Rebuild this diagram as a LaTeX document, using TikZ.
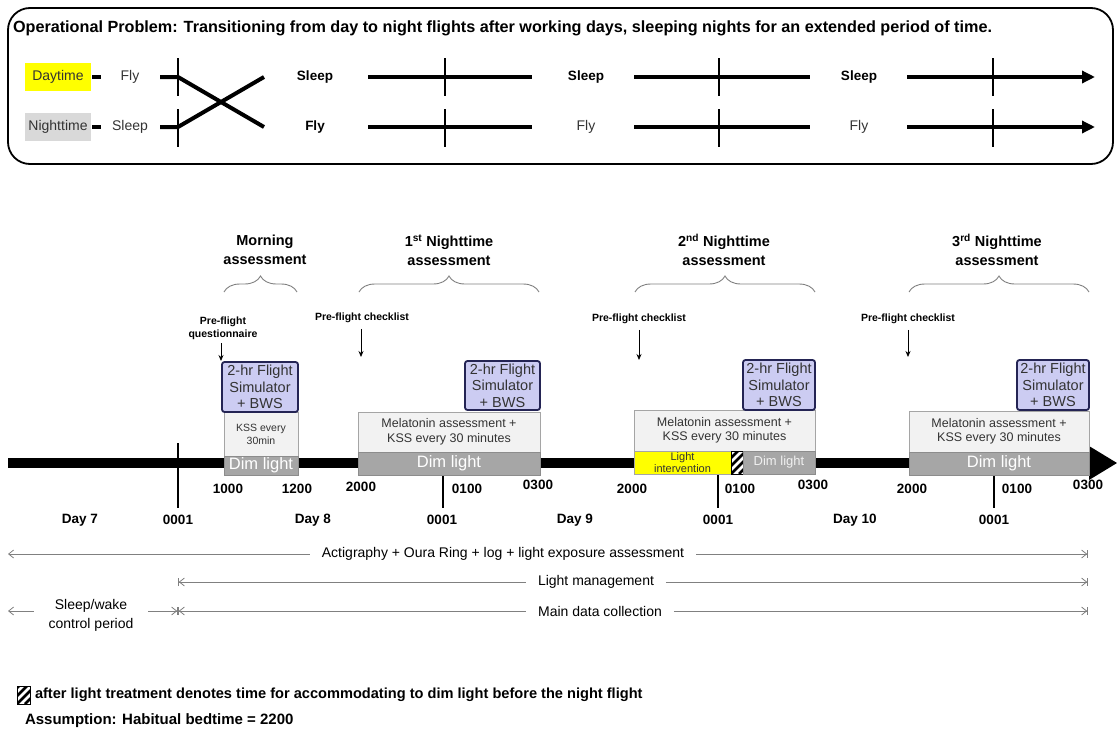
\documentclass[tikz,border=0pt]{standalone}
\usepackage{fontspec}
\setmainfont{Liberation Sans}
\usetikzlibrary{arrows.meta,decorations.pathreplacing,calc}
\definecolor{lav}{RGB}{204,204,242}
\definecolor{navy}{RGB}{36,36,84}
\definecolor{boxlt}{RGB}{242,242,242}
\definecolor{boxbd}{RGB}{165,165,165}
\definecolor{dimg}{RGB}{166,166,166}
\definecolor{dimbd}{RGB}{140,140,140}
\definecolor{txt}{RGB}{51,51,51}
\definecolor{ngray}{RGB}{217,217,217}
\definecolor{yel}{RGB}{255,255,0}
\definecolor{arrg}{RGB}{128,128,128}
\newcommand\fs[2]{\fontsize{#1}{#2}\selectfont}
\newcommand\hatchbox[4]{%
  \begin{scope}
    \clip (#1,#2) rectangle (#3,#4);
    \fill[white] (#1,#2) rectangle (#3,#4);
    \foreach \k in {-32,-24,...,24}
      \draw[line width=2.8pt] (#1+\k,#4) -- ++(30,-30);
  \end{scope}
  \draw[line width=0.6pt] (#1,#2) rectangle (#3,#4);}
\begin{document}
\begin{tikzpicture}[x=1pt,y=-1pt,
  every node/.style={inner sep=0pt,outer sep=0pt},
  fsim/.style={draw=navy,line width=1.8pt,fill=lav,rounded corners=2.5pt,anchor=north west,align=center,text=txt,font=\fs{14.5}{16.5}},
  lbox/.style={draw=boxbd,line width=0.8pt,fill=boxlt,anchor=north west,align=center,text=txt},
  dimbox/.style={draw=dimbd,line width=0.8pt,fill=dimg,anchor=north west,text=white,font=\fs{16.5}{18}},
  heavy/.style={line width=4pt},
  tk/.style={line width=1.2pt},
  lab/.style={font=\fs{14}{16},text=txt},
  blab/.style={font=\bfseries\fs{13.5}{15}},
  tlab/.style={font=\bfseries\fs{13.5}{15}},
  hdr/.style={font=\bfseries\fs{14.5}{19},align=center},
  pre/.style={font=\bfseries\fs{10.5}{13},align=center},
  prearr/.style={line width=0.8pt,-{Stealth[length=6pt,width=5pt]}},
  brc/.style={draw=arrg,line width=0.9pt,decorate,decoration={brace,amplitude=16pt}},
  span/.style={draw=arrg,line width=0.8pt},
  spanlab/.style={font=\fs{14}{19},inner xsep=12pt,align=center},
  spanL/.style={span,{Straight Barb[length=5pt,width=8pt]}-},
  spanR/.style={span,-{Straight Barb[length=5pt,width=8pt]Bar[width=8pt]}},
  spanBL/.style={span,{Bar[width=8pt]Straight Barb[length=5pt,width=8pt]}-},
]
\path[use as bounding box] (0,0) rectangle (1117,731);
% ---------- top box ----------
\draw[line width=1.8pt,rounded corners=22pt] (8,8) rectangle (1113,164);
\node[anchor=west,font=\bfseries\fs{16.2}{18}] (title) at (13,28) {Operational Problem: Transitioning from day to night flights after working days, sleeping nights for an extended period of time.};
\node[fill=yel,minimum width=66pt,minimum height=28pt,anchor=north west,lab] (day) at (25,63) {Daytime};
\node[fill=ngray,minimum width=66pt,minimum height=28pt,anchor=north west,lab] (night) at (25,113) {Nighttime};
\draw[heavy] (92,77) -- (101,77);
\draw[heavy] (92,127) -- (101,127);
\node[lab] (fly0) at (130,77) {Fly};
\node[lab] (sleep0) at (130,127) {Sleep};
\draw[heavy] (160,77) -- (178,77) -- (264,127);
\draw[heavy] (160,127) -- (178,127) -- (264,77);
\foreach \x in {178,445,719,993} {
  \draw[tk] (\x,58) -- (\x,96);
  \draw[tk] (\x,109) -- (\x,147);
}
\node[blab] (s1) at (315,77) {Sleep};
\node[blab] (f1) at (315,127) {Fly};
\draw[heavy] (368,77) -- (532,77);
\draw[heavy] (368,127) -- (532,127);
\node[blab] (s2) at (586,77) {Sleep};
\node[lab] (f2) at (586,127) {Fly};
\draw[heavy] (634,77) -- (810,77);
\draw[heavy] (634,127) -- (810,127);
\node[blab] (s3) at (859,77) {Sleep};
\node[lab] (f3) at (859,127) {Fly};
\draw[heavy,-{Triangle[length=13pt,width=12pt]}] (907,77) -- (1095,77);
\draw[heavy,-{Triangle[length=13pt,width=12pt]}] (907,127) -- (1095,127);
% ---------- timeline ----------
\draw[line width=10pt] (8,463) -- (1092,463);
\fill (1089,446) -- (1117,463) -- (1089,480) -- cycle;
\draw[line width=1.5pt] (178,443) -- (178,508);
\foreach \x in {443,718,994} \draw[line width=1.5pt] (\x,475) -- (\x,508);
% morning
\node[lbox,minimum width=74pt,minimum height=44pt,font=\fs{10.5}{13}] (kss) at (224,412) {KSS every\\30min};
\node[dimbox,minimum width=74pt,minimum height=19pt] (dim1) at (224,456) {Dim light};
\node[fsim,minimum width=76pt,minimum height=50pt] (sim1) at (222,362) {2-hr Flight\\Simulator\\+ BWS};
% 1st night
\node[lbox,minimum width=182pt,minimum height=40pt,font=\fs{12.5}{14.5}] (mel1) at (358,412) {Melatonin assessment +\\KSS every 30 minutes};
\node[dimbox,minimum width=182pt,minimum height=23pt] (dim2) at (358,452) {Dim light};
\node[fsim,minimum width=75pt,minimum height=49pt] (sim2) at (465,361) {2-hr Flight\\Simulator\\+ BWS};
% 2nd night
\node[lbox,minimum width=181pt,minimum height=41pt,font=\fs{12.5}{14.5}] (mel2) at (634,410) {Melatonin assessment +\\KSS every 30 minutes};
\node[fill=yel,draw=boxbd,line width=0.8pt,minimum width=97pt,minimum height=23pt,anchor=north west,align=center,font=\fs{11}{12},text=txt] (li) at (634,451) {Light\\intervention};
\hatchbox{731}{451}{743}{474}
\node[dimbox,minimum width=72pt,minimum height=23pt,font=\fs{13}{15},text=white!88!gray] (dim3) at (743,451) {Dim light};
\node[fsim,minimum width=72pt,minimum height=50pt] (sim3) at (743,360) {2-hr Flight\\Simulator\\+ BWS};
% 3rd night
\node[lbox,minimum width=180pt,minimum height=41pt,font=\fs{12.5}{14.5}] (mel3) at (909,411) {Melatonin assessment +\\KSS every 30 minutes};
\node[dimbox,minimum width=180pt,minimum height=23pt] (dim4) at (909,452) {Dim light};
\node[fsim,minimum width=72pt,minimum height=50pt] (sim4) at (1017,360) {2-hr Flight\\Simulator\\+ BWS};
% headers and braces
\node[hdr] (h1) at (265,250) {Morning\\assessment};
\node[hdr] (h2) at (449,250) {1\textsuperscript{st} Nighttime\\assessment};
\node[hdr] (h3) at (724,250) {2\textsuperscript{nd} Nighttime\\assessment};
\node[hdr] (h4) at (997,250) {3\textsuperscript{rd} Nighttime\\assessment};
\draw[brc] (224,292) -- (297,292);
\draw[brc] (359,292) -- (539,292);
\draw[brc] (635,292) -- (815,292);
\draw[brc] (909,292) -- (1089,292);
% pre-flight
\node[pre] (pq) at (223,328) {Pre-flight\\questionnaire};
\coordinate (pqe) at (221,361);
\draw[prearr] ($(pq.south -| pqe)+(0,4)$) -- (pqe);
\node[pre] (pc1) at (362,318) {Pre-flight checklist};
\coordinate (pc1e) at (361,357);
\draw[prearr] ($(pc1.south -| pc1e)+(0,6)$) -- (pc1e);
\node[pre] (pc2) at (639,319) {Pre-flight checklist};
\coordinate (pc2e) at (639,360);
\draw[prearr] ($(pc2.south -| pc2e)+(0,6)$) -- (pc2e);
\node[pre] (pc3) at (908,319) {Pre-flight checklist};
\coordinate (pc3e) at (908,357);
\draw[prearr] ($(pc3.south -| pc3e)+(0,6)$) -- (pc3e);
% time labels
\node[tlab] (t1000) at (228,489) {1000};
\node[tlab] (t1200) at (297,489) {1200};
\node[tlab] (t2000a) at (361,487) {2000};
\node[tlab] (t0100a) at (467,489) {0100};
\node[tlab] (t0300a) at (538,485) {0300};
\node[tlab] (t2000b) at (632,489) {2000};
\node[tlab] (t0100b) at (740,489) {0100};
\node[tlab] (t0300b) at (813,485) {0300};
\node[tlab] (t2000c) at (912,489) {2000};
\node[tlab] (t0100c) at (1017,489) {0100};
\node[tlab] (t0300c) at (1088,485) {0300};
\node[tlab] (d7) at (80,520) {Day 7};
\node[tlab] (z1) at (178,520) {0001};
\node[tlab] (d8) at (313,520) {Day 8};
\node[tlab] (z2) at (442,520) {0001};
\node[tlab] (d9) at (575,520) {Day 9};
\node[tlab] (z3) at (718,520) {0001};
\node[tlab] (d10) at (855,520) {Day 10};
\node[tlab] (z4) at (994,520) {0001};
% spans
\coordinate (a1) at (8,554); \coordinate (b1) at (1088,554);
\node[spanlab] (sp1) at (503,554) {Actigraphy + Oura Ring + log + light exposure assessment};
\draw[spanL] (a1) -- (sp1.west);
\draw[spanR] (sp1.east) -- (b1);
\coordinate (a2) at (178,582); \coordinate (b2) at (1088,582);
\node[spanlab] (sp2) at (596,582) {Light management};
\draw[spanBL] (a2) -- (sp2.west);
\draw[spanR] (sp2.east) -- (b2);
\coordinate (a3) at (8,611); \coordinate (c3) at (178,611); \coordinate (b3) at (1088,611);
\node[spanlab,inner xsep=15pt] (sw) at (91,615) {Sleep/wake\\control period};
\node[spanlab] (sp3) at (600,611) {Main data collection};
\draw[spanL] (a3) -- (sw.west |- a3);
\draw[spanR] (sw.east |- a3) -- (c3);
\draw[spanBL] (c3) -- (sp3.west);
\draw[spanR] (sp3.east) -- (b3);
% legend
\hatchbox{17}{686}{30}{704}
\node[anchor=west,font=\bfseries\fs{14.6}{16}] (leg) at (35,695) {after light treatment denotes time for accommodating to dim light before the night flight};
\node[anchor=west,font=\bfseries\fs{15}{17}] (asm) at (25,721) {Assumption: Habitual bedtime = 2200};
\end{tikzpicture}
\end{document}
